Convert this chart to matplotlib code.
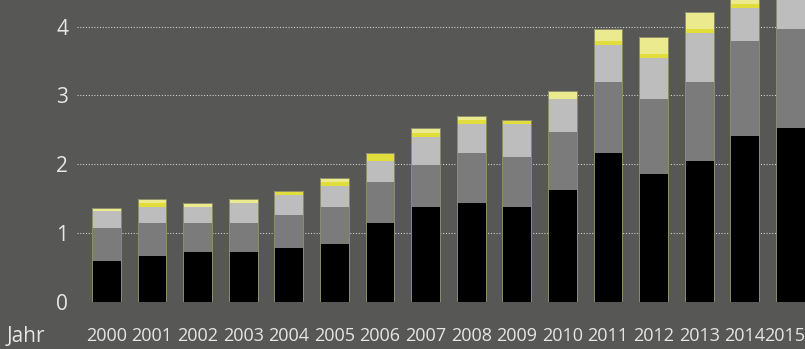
import matplotlib
matplotlib.use("Agg")
import matplotlib.pyplot as plt
import matplotlib.transforms as mtransforms
import numpy as np

years = [2000, 2001, 2002, 2003, 2004, 2005, 2006, 2007,
         2008, 2009, 2010, 2011, 2012, 2013, 2014, 2015]
year_labels = [str(y) for y in years]

# stacked components, bottom to top
seg_black = [0.59, 0.665, 0.723, 0.723, 0.781, 0.839, 1.145, 1.377,
             1.436, 1.377, 1.625, 2.163, 1.862, 2.047, 2.415, 2.531]
seg_dark = [0.485, 0.475, 0.417, 0.417, 0.476, 0.538, 0.596, 0.607,
            0.727, 0.723, 0.839, 1.028, 1.086, 1.144, 1.377, 1.436]
seg_light = [0.24, 0.237, 0.237, 0.296, 0.30, 0.306, 0.301, 0.416,
             0.422, 0.485, 0.484, 0.543, 0.601, 0.722, 0.485, 0.50]
seg_yellow = [0.0, 0.059, 0.0, 0.0, 0.058, 0.058, 0.116, 0.058,
              0.058, 0.058, 0.0, 0.058, 0.058, 0.058, 0.058, 0.06]
seg_pale = [0.055, 0.058, 0.059, 0.058, 0.0, 0.054, 0.0, 0.064,
            0.058, 0.0, 0.117, 0.175, 0.239, 0.238, 0.25, 0.25]

y_ticks = [0, 1, 2, 3, 4]

bg = "#575755"
text_col = "#e6e6e6"
colors = ["#000000", "#7b7b7b", "#bdbdbd", "#e0dd3c", "#ebea8e"]

plt.rcParams["font.family"] = ["Open Sans", "DejaVu Sans"]

fig = plt.figure(figsize=(8.05, 3.49), dpi=100, facecolor=bg)
ax = fig.add_axes([76.7 / 805, 47.3 / 349, 1 - 76.7 / 805, 301.7 / 349])
ax.set_facecolor(bg)

x = np.array(years, dtype=float)
width = 0.63
bottom = np.zeros(len(years))
for vals, c in zip([seg_black, seg_dark, seg_light, seg_yellow, seg_pale], colors):
    v = np.array(vals)
    ax.bar(x, v, width=width, bottom=bottom, color=c, linewidth=0, zorder=3)
    bottom += v

# thin outline around each full column
ax.bar(x, bottom, width=width, fill=False, edgecolor="#8e8d6a", linewidth=0.7, zorder=4)

ax.set_xlim(years[0] - 0.65, years[-1] + 0.32)
ax.set_ylim(0, 4.388)
ax.set_yticks(y_ticks)
ax.set_yticklabels([str(t) for t in y_ticks])
ax.set_xticks(years)
ax.set_xticklabels(year_labels)

ax.grid(axis="y", color="#d8d8d8", linestyle=(0, (1, 1.7)), linewidth=0.75, zorder=1)
ax.grid(axis="x", visible=False)
for s in ax.spines.values():
    s.set_visible(False)

ax.tick_params(axis="both", length=0, colors=text_col)
ax.tick_params(axis="x", pad=18, labelsize=13)
ax.tick_params(axis="y", pad=6, labelsize=15)

# nudge the last year label so it stays inside the figure
last = ax.get_xticklabels()[-1]
last.set_transform(last.get_transform() +
                   mtransforms.ScaledTranslation(-4 / 72, 0, fig.dpi_scale_trans))

fig.text(7 / 805, 1 - 336 / 349, "Jahr", color=text_col, fontsize=15,
         ha="left", va="center")

fig.savefig("out.png", dpi=100, facecolor=bg)
